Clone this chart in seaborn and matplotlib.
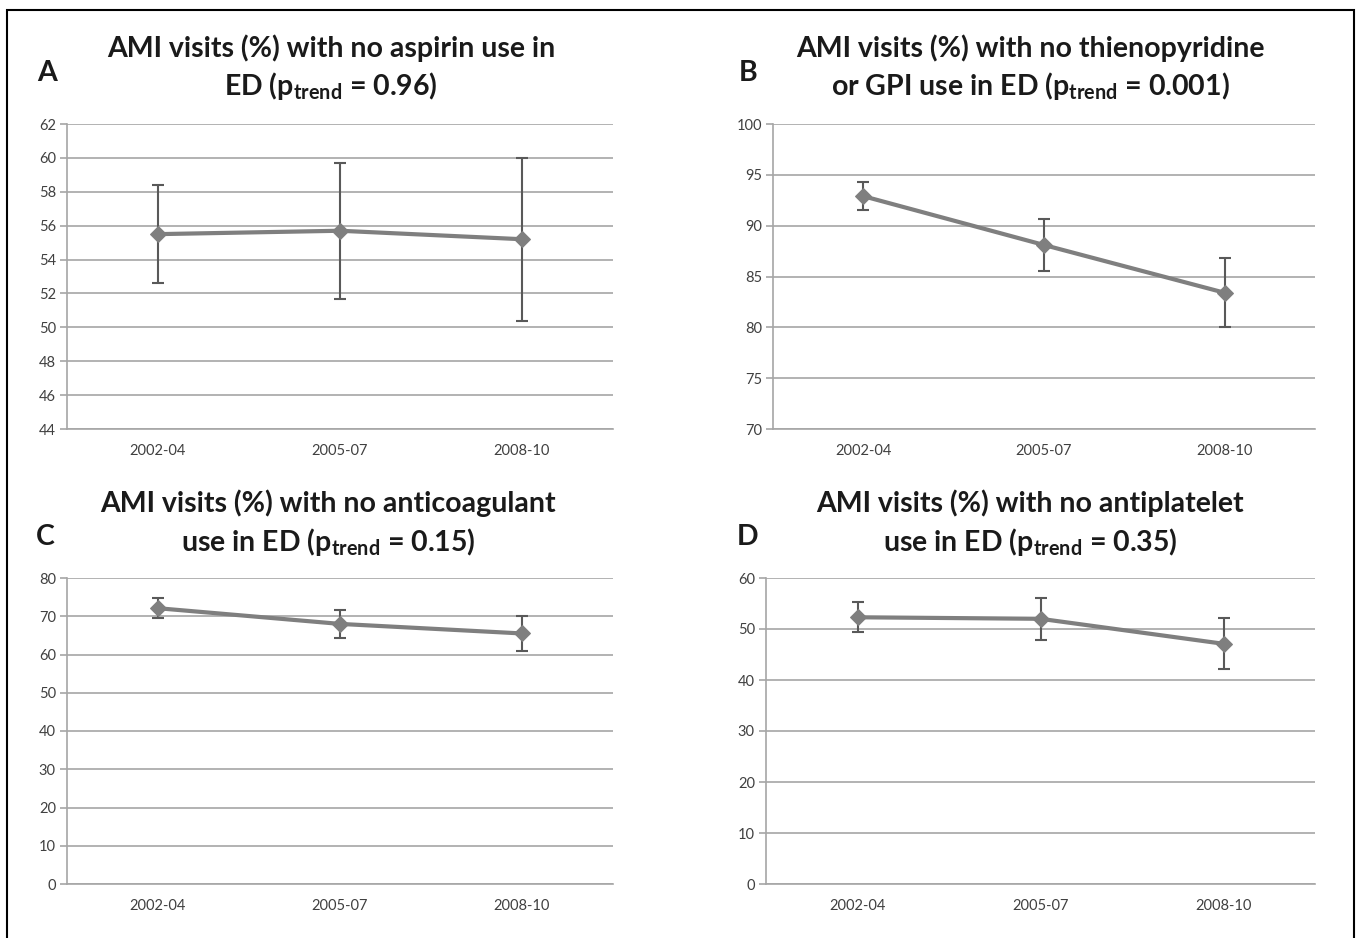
import matplotlib
matplotlib.use("Agg")
import matplotlib.pyplot as plt
import seaborn as sns
import pandas as pd
from matplotlib.patches import Rectangle

sns.set_theme(style="white")
plt.rcParams['font.family'] = ['Lato', 'DejaVu Sans']

periods = ["2002-04", "2005-07", "2008-10"]

a_vals = [55.5, 55.7, 55.2]
a_low = [52.6, 51.7, 50.4]
a_high = [58.4, 59.7, 60.0]

b_vals = [92.9, 88.1, 83.4]
b_low = [91.5, 85.5, 80.0]
b_high = [94.3, 90.7, 86.8]

c_vals = [72.1, 68.0, 65.5]
c_low = [69.5, 64.3, 61.0]
c_high = [74.8, 71.7, 70.0]

d_vals = [52.3, 52.0, 47.1]
d_low = [49.5, 47.9, 42.2]
d_high = [55.2, 56.1, 52.1]

titles = [
    "AMI visits (%) with no aspirin use in\nED (p$_\\mathregular{trend}$ = 0.96)",
    "AMI visits (%) with no thienopyridine\nor GPI use in ED (p$_\\mathregular{trend}$ = 0.001)",
    "AMI visits (%) with no anticoagulant\nuse in ED (p$_\\mathregular{trend}$ = 0.15)",
    "AMI visits (%) with no antiplatelet\nuse in ED (p$_\\mathregular{trend}$ = 0.35)",
]
letters = ["A", "B", "C", "D"]
ylims = [(44, 62, 2), (70, 100, 5), (0, 80, 10), (0, 60, 10)]

W, H = 1361, 938
fig = plt.figure(figsize=(W / 100, H / 100), dpi=100)

# axes boxes in pixel coords: left, top, right, bottom
boxes = [(67, 124, 613, 429), (773, 124, 1315, 429), (67, 578, 613, 884), (766, 578, 1315, 884)]
title_centers = [(331, 48, 86), (1030, 48, 86), (328, 503, 542), (1030, 503, 542)]
letter_pos = [(47, 73), (748, 73), (45, 537), (748, 537)]

series = [(a_vals, a_low, a_high), (b_vals, b_low, b_high), (c_vals, c_low, c_high), (d_vals, d_low, d_high)]

grid_c = "#a6a6a6"
line_c = "#7f7f7f"
err_c = "#595959"
text_c = "#404040"

for i in range(4):
    l, t, r, b = boxes[i]
    ax = fig.add_axes([l / W, 1 - b / H, (r - l) / W, (b - t) / H])
    vals, lo, hi = series[i]
    df = pd.DataFrame({"x": list(range(len(periods))), "y": vals})
    ax.errorbar(df["x"], vals, yerr=[[v - a for v, a in zip(vals, lo)], [h - v for v, h in zip(vals, hi)]],
                fmt="none", ecolor=err_c, elinewidth=1.5, capsize=4, capthick=1.5, zorder=3)
    sns.lineplot(data=df, x="x", y="y", ax=ax, color=line_c, linewidth=3, marker="D",
                 markersize=8.5, markeredgecolor=line_c, markerfacecolor=line_c, zorder=4)
    ymin, ymax, step = ylims[i]
    ax.set_ylim(ymin, ymax)
    ax.set_xlim(-0.5, 2.5)
    ax.set_yticks(list(range(ymin, ymax + 1, step)))
    ax.set_xticks([0, 1, 2])
    ax.set_xticklabels(periods)
    ax.set_xticks([-0.5, 0.5, 1.5, 2.5], minor=True)
    ax.tick_params(axis="x", which="major", length=0, pad=11, labelsize=10.5, labelcolor=text_c)
    ax.tick_params(axis="x", which="minor", length=5, width=1.2, color=grid_c, direction="out")
    ax.tick_params(axis="y", which="major", length=5, width=1.2, color=grid_c, direction="out",
                   labelsize=10.5, labelcolor=text_c, pad=3, left=True)
    ax.yaxis.grid(True, color=grid_c, linewidth=1.2)
    ax.set_axisbelow(True)
    for s in ["top", "right"]:
        ax.spines[s].set_visible(False)
    ax.spines["left"].set_color(grid_c)
    ax.spines["bottom"].set_color(grid_c)
    ax.spines["left"].set_linewidth(1.2)
    ax.spines["bottom"].set_linewidth(1.2)
    ax.set_xlabel("")
    ax.set_ylabel("")

    cx, y1, y2 = title_centers[i]
    lines = titles[i].split("\n")
    fig.text(cx / W, 1 - y1 / H, lines[0], ha="center", va="center", fontsize=20.5,
             fontweight="bold", color="#1a1a1a")
    fig.text(cx / W, 1 - y2 / H, lines[1], ha="center", va="center", fontsize=20.5,
             fontweight="bold", color="#1a1a1a")
    lx, ly = letter_pos[i]
    fig.text(lx / W, 1 - ly / H, letters[i], ha="center", va="center", fontsize=20.5,
             fontweight="bold", color="#1a1a1a")

fig.patches.append(Rectangle((7 / W, -0.05), (1354 - 7) / W, 1.05 - 10 / H, transform=fig.transFigure,
                             fill=False, edgecolor="black", linewidth=1.5))

fig.savefig("out.png", dpi=100)
